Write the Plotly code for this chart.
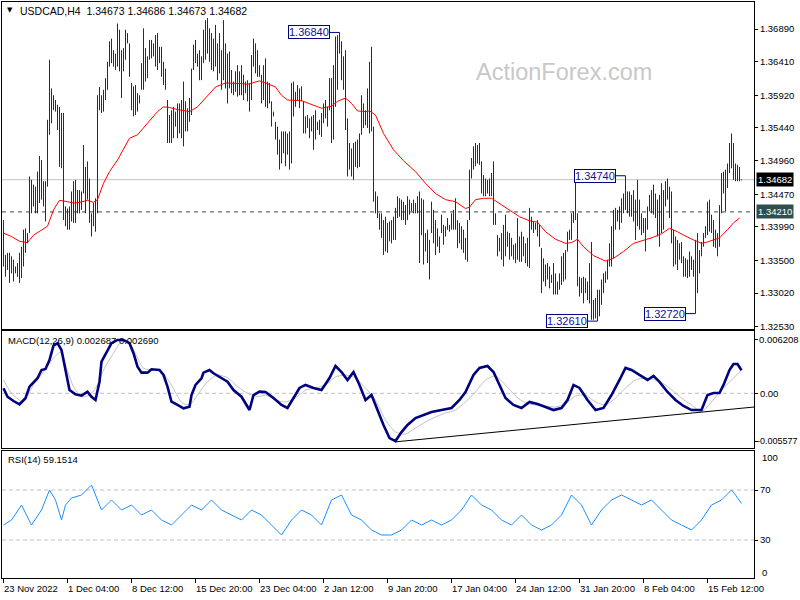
import plotly.graph_objects as go

# ---------------- data ----------------
highs = [
1.3409,1.3358,1.3361,1.3361,1.3356,1.3351,1.3341,1.3346,1.3361,1.3370,
1.3395,1.3397,1.3390,1.3473,1.3468,1.3461,1.3458,1.3480,1.3503,1.3497,
1.3466,1.3466,1.3556,1.3644,1.3602,1.3592,1.3585,1.3578,1.3575,1.3566,
1.3566,1.3429,1.3426,1.3429,1.3451,1.3466,1.3468,1.3453,1.3453,1.3451,
1.3519,1.3487,1.3495,1.3470,1.3419,1.3434,1.3441,1.3592,1.3604,1.3592,
1.3600,1.3617,1.3641,1.3671,1.3675,1.3658,1.3653,1.3697,1.3688,1.3658,
1.3661,1.3688,1.3683,1.3668,1.3610,1.3605,1.3607,1.3595,1.3592,1.3639,
1.3690,1.3661,1.3649,1.3673,1.3673,1.3668,1.3680,1.3683,1.3663,1.3663,
1.3641,1.3631,1.3585,1.3563,1.3570,1.3575,1.3568,1.3580,1.3580,1.3585,
1.3612,1.3583,1.3573,1.3588,
1.3631,1.3666,1.3673,1.3653,1.3658,1.3649,1.3688,1.3702,1.3705,1.3690,
1.3683,1.3675,1.3695,1.3668,1.3683,1.3658,1.3702,1.3668,1.3653,1.3656,
1.3629,1.3612,1.3627,1.3636,1.3627,1.3636,1.3622,1.3612,1.3614,1.3610,
1.3651,1.3675,1.3668,1.3658,1.3636,1.3622,1.3636,1.3646,1.3612,1.3610,
1.3583,1.3568,1.3553,1.3546,1.3527,1.3539,1.3539,1.3539,1.3536,1.3539,
1.3610,1.3612,1.3597,1.3607,1.3602,1.3605,1.3583,1.3561,1.3563,1.3558,
1.3561,1.3563,1.3570,1.3553,1.3556,1.3566,1.3580,1.3585,1.3575,1.3617,
1.3617,1.3636,1.3678,1.3680,1.3684,1.3671,1.3649,1.3658,1.3558,1.3522,
1.3514,1.3522,1.3524,1.3527,1.3536,1.3592,1.3580,1.3570,1.3602,1.3641,
1.3663,1.3546,1.3451,1.3444,
1.3419,1.3419,1.3409,1.3414,1.3405,1.3407,1.3409,1.3414,1.3427,1.3444,
1.3441,1.3439,1.3436,1.3431,1.3444,1.3439,1.3434,1.3439,1.3434,1.3444,
1.3451,1.3441,1.3439,1.3390,1.3395,1.3380,1.3436,1.3424,1.3409,1.3397,
1.3385,1.3417,1.3402,1.3400,1.3412,1.3402,1.3419,1.3424,1.3441,1.3409,
1.3405,1.3400,1.3395,1.3383,1.3409,1.3483,1.3500,1.3517,1.3522,1.3519,
1.3522,1.3495,1.3475,1.3470,1.3468,1.3470,1.3478,1.3495,1.3419,1.3387,
1.3383,1.3390,1.3402,1.3417,1.3392,1.3390,1.3383,1.3373,1.3375,1.3412,
1.3385,1.3392,1.3385,1.3375,1.3383,1.3427,1.3414,1.3407,1.3405,1.3409,
1.3402,1.3368,1.3353,1.3344,1.3346,1.3341,1.3329,1.3346,1.3331,1.3319,
1.3331,1.3356,1.3361,1.3365,
1.3392,1.3395,1.3419,1.3422,1.3470,1.3419,1.3326,1.3324,1.3326,1.3324,
1.3319,1.3346,1.3377,1.3292,1.3295,1.3307,1.3307,1.3322,1.3331,1.3334,
1.3351,1.3375,1.3400,1.3424,1.3427,1.3424,1.3429,1.3441,1.3448,1.3474,
1.3451,1.3451,1.3446,1.3453,1.3439,1.3468,1.3439,1.3419,1.3412,1.3412,
1.3429,1.3446,1.3453,1.3461,1.3448,1.3439,1.3446,1.3463,1.3453,1.3466,
1.3470,1.3458,1.3451,1.3395,1.3385,1.3380,1.3375,1.3377,1.3356,1.3353,
1.3351,1.3363,1.3356,1.3351,1.3380,1.3390,1.3365,1.3377,1.3390,1.3400,
1.3436,1.3439,1.3417,1.3409,1.3395,1.3390,1.3431,1.3478,1.3480,1.3483,
1.3492,1.3522,1.3536,1.3522,1.3492,1.3490,1.3487,1.34686]

lows = [
1.3341,1.3326,1.3336,1.3317,1.3331,1.3319,1.3331,1.3326,1.3317,1.3324,
1.3341,1.3361,1.3375,1.3390,1.3419,1.3429,1.3419,1.3419,1.3434,1.3439,
1.3429,1.3407,1.3458,1.3534,1.3551,1.3570,1.3568,1.3541,1.3487,1.3485,
1.3409,1.3400,1.3395,1.3395,1.3407,1.3405,1.3405,1.3419,1.3419,1.3424,
1.3448,1.3419,1.3439,1.3405,1.3385,1.3400,1.3392,1.3419,1.3570,1.3566,
1.3568,1.3585,1.3600,1.3634,1.3639,1.3634,1.3629,1.3634,1.3627,1.3588,
1.3627,1.3644,1.3668,1.3619,1.3570,1.3561,1.3563,1.3568,1.3580,1.3600,
1.3600,1.3612,1.3617,1.3644,1.3646,1.3649,1.3634,1.3629,1.3639,1.3619,
1.3607,1.3600,1.3522,1.3522,1.3522,1.3529,1.3546,1.3529,1.3536,1.3529,
1.3517,1.3539,1.3539,1.3553,
1.3563,1.3629,1.3639,1.3634,1.3614,1.3614,1.3639,1.3644,1.3653,1.3641,
1.3629,1.3627,1.3634,1.3614,1.3624,1.3600,1.3614,1.3602,1.3580,1.3602,
1.3595,1.3592,1.3597,1.3590,1.3592,1.3592,1.3585,1.3595,1.3583,1.3568,
1.3585,1.3634,1.3624,1.3619,1.3619,1.3580,1.3585,1.3575,1.3573,1.3580,
1.3546,1.3561,1.3527,1.3505,1.3483,1.3492,1.3507,1.3488,1.3505,1.3483,
1.3492,1.3561,1.3575,1.3585,1.3573,1.3583,1.3536,1.3536,1.3544,1.3529,
1.3539,1.3512,1.3527,1.3541,1.3534,1.3531,1.3551,1.3558,1.3546,1.3570,
1.3522,1.3527,1.3575,1.3600,1.3653,1.3614,1.3600,1.3541,1.3473,1.3483,
1.3473,1.3468,1.3487,1.3485,1.3487,1.3534,1.3544,1.3548,1.3544,1.3536,
1.3539,1.3436,1.3419,1.3412,
1.3395,1.3383,1.3358,1.3363,1.3361,1.3378,1.3375,1.3380,1.3380,1.3412,
1.3414,1.3409,1.3409,1.3402,1.3409,1.3417,1.3422,1.3419,1.3419,1.3419,
1.3346,1.3387,1.3344,1.3363,1.3346,1.3322,1.3390,1.3375,1.3358,1.3370,
1.3361,1.3390,1.3373,1.3385,1.3395,1.3392,1.3395,1.3395,1.3395,1.3368,
1.3375,1.3366,1.3361,1.3351,1.3348,1.3409,1.3470,1.3483,1.3488,1.3492,
1.3490,1.3448,1.3444,1.3444,1.3448,1.3444,1.3444,1.3402,1.3402,1.3356,
1.3363,1.3351,1.3341,1.3356,1.3370,1.3351,1.3356,1.3351,1.3346,1.3351,
1.3348,1.3348,1.3356,1.3346,1.3341,1.3339,1.3395,1.3390,1.3395,1.3385,
1.3370,1.3302,1.3319,1.3312,1.3322,1.3309,1.3317,1.3300,1.3300,1.3300,
1.3307,1.3314,1.3319,1.3322,
1.3363,1.3380,1.3380,1.3405,1.3409,1.3312,1.3297,1.3302,1.3287,1.3302,
1.3292,1.3287,1.3263,1.3263,1.3265,1.3261,1.3268,1.3285,1.3302,1.3317,
1.3322,1.3341,1.3341,1.3353,1.3395,1.3407,1.3395,1.3405,1.3419,1.3424,
1.3419,1.3414,1.3414,1.3407,1.3380,1.3400,1.3395,1.3387,1.3390,1.3363,
1.3395,1.3422,1.3419,1.3417,1.3412,1.3385,1.3370,1.3390,1.3395,1.3429,
1.3439,1.3412,1.3375,1.3341,1.3344,1.3336,1.3351,1.3346,1.3326,1.3326,
1.3324,1.3326,1.3336,1.3326,1.3272,1.3302,1.3331,1.3356,1.3370,1.3383,
1.3387,1.3392,1.3390,1.3370,1.3368,1.3356,1.3370,1.3419,1.3448,1.3422,
1.3456,1.3478,1.3485,1.3468,1.3466,1.3466,1.3466,1.34673]

ma_idx = [0,4,8,12,15,20,22,25,28,32,35,38,42,45,47,50,53,57,60,63,67,70,73,77,80,
          83,87,90,93,97,101,106,111,116,119,122,126,128,132,136,139,142,149,152,156,
          159,164,167,171,174,177,181,183,186,190,195,200,206,211,216,221,226,231,233,
          236,240,244,248,253,258,263,267,271,276,281,284,287,290,295,301,305,310,315,
          320,325,329,333,337,340,345,349,352,355,358,362,365,368]
ma_val = [1.3390,1.3385,1.3378,1.3376,1.3387,1.3397,1.3400,1.3424,1.3438,1.3436,
          1.3434,1.3435,1.3438,1.3435,1.3439,1.3463,1.3480,1.3497,1.3512,1.3529,
          1.3534,1.3544,1.3555,1.3568,1.3575,1.3574,1.3571,1.3570,1.3568,1.3575,
          1.3588,1.3604,1.3610,1.3610,1.3609,1.3608,1.3612,1.3613,1.3609,1.3604,
          1.3592,1.3585,1.3584,1.3581,1.3576,1.3573,1.3576,1.3583,1.3588,1.3580,
          1.3569,1.3568,1.3569,1.3563,1.3536,1.3512,1.3496,1.3480,1.3463,1.3448,
          1.3439,1.3436,1.3426,1.3428,1.3439,1.3441,1.3441,1.3433,1.3423,1.3414,
          1.3408,1.3406,1.3392,1.3381,1.3375,1.3376,1.3381,1.3370,1.3357,1.3349,
          1.3353,1.3363,1.3375,1.3379,1.3384,1.3389,1.3397,1.3392,1.3387,1.3380,
          1.3375,1.3377,1.3380,1.3383,1.3395,1.3405,1.3412]

macd_idx = [0,2,5,8,11,13,17,19,21,23,25,27,29,31,33,36,39,42,44,46,48,49,52,54,57,
            60,63,65,67,69,72,74,78,80,82,84,87,90,93,94,96,99,100,103,105,109,112,115,
            119,123,125,128,131,135,139,142,145,148,151,155,159,163,166,169,172,175,178,
            181,184,187,190,193,196,199,202,206,210,214,219,224,228,231,235,238,242,245,
            248,251,255,259,263,267,271,275,279,282,285,288,292,296,300,304,308,311,314,
            318,322,325,328,332,336,340,344,349,352,355,358,360,363,365,367,369]
macd_val = [0.00058,-0.00040,-0.00090,-0.00128,-0.00058,0.00077,0.00175,0.00271,0.00283,0.00388,
            0.00555,0.00583,0.00504,0.00252,0.00038,-0.00012,-0.00028,0.00019,-0.00040,-0.00078,
            0.00135,0.00368,0.00504,0.00583,0.00621,0.00621,0.00583,0.00466,0.00310,0.00240,
            0.00240,0.00280,0.00271,0.00213,0.00077,-0.00098,-0.00136,-0.00175,-0.00156,-0.00020,
            0.00097,0.00175,0.00240,0.00271,0.00233,0.00182,0.00135,0.00038,-0.00040,-0.00195,
            -0.00020,0.00019,0.00015,-0.00055,-0.00136,-0.00171,-0.00055,0.00062,0.00097,0.00062,
            0.00038,0.00178,0.00318,0.00248,0.00155,0.00248,0.00097,-0.00078,-0.00020,-0.00195,
            -0.00369,-0.00521,-0.00556,-0.00451,-0.00369,-0.00288,-0.00253,-0.00218,-0.00195,-0.00171,
            -0.00078,0.00015,0.00213,0.00295,0.00318,0.00248,0.00097,-0.00055,-0.00136,-0.00171,
            -0.00101,-0.00125,-0.00160,-0.00195,-0.00171,-0.00078,0.00097,0.00062,-0.00078,-0.00195,
            -0.00171,-0.00020,0.00155,0.00295,0.00271,0.00213,0.00155,0.00202,0.00132,0.00015,
            -0.00078,-0.00148,-0.00195,-0.00195,-0.00020,0.00003,0.00003,0.00097,0.00271,0.00341,
            0.00341,0.00269]

sig_idx = [0,4,9,12,15,20,25,29,31,35,39,43,47,50,55,59,63,67,70,75,79,84,89,93,97,
           102,107,112,117,122,127,131,136,141,146,151,156,161,166,171,176,181,186,191,196,
           201,206,211,216,221,226,231,236,241,246,251,256,261,266,271,276,281,286,291,296,
           301,306,311,316,321,326,331,336,341,344,349,359,369]
sig_val = [0.00155,0.0,-0.00090,-0.00020,0.00097,0.00252,0.00408,0.00485,0.00330,0.00077,
           -0.00040,-0.00020,0.00097,0.00271,0.00466,0.00601,0.00583,0.00408,0.00291,0.00271,
           0.00252,0.00097,-0.00105,-0.00136,-0.00020,0.00135,0.00213,0.00182,0.00077,0.0,
           -0.00040,-0.00020,-0.00078,-0.00101,-0.00055,0.00038,0.00062,0.00097,0.00190,0.00213,
           0.00178,0.00062,-0.00078,-0.00311,-0.00451,-0.00474,-0.00404,-0.00334,-0.00276,-0.00230,
           -0.00195,-0.00101,0.00015,0.00155,0.00202,0.00097,-0.00031,-0.00113,-0.00136,-0.00148,
           -0.00160,-0.00125,-0.00031,-0.00020,-0.00101,-0.00136,-0.00055,0.00062,0.00155,0.00178,
           0.00155,0.00097,0.00003,-0.00090,-0.00136,-0.00214,0.00038,0.00269]

trend_idx = [196, 375.25]
trend_val = [-0.00565, -0.00160]

rsi_idx = [0,4,9,14,19,23,26,29,31,34,39,44,49,54,59,64,69,74,79,84,89,94,99,104,109,
           114,119,124,129,134,139,144,149,154,159,164,169,174,179,184,189,194,199,204,209,
           214,219,224,229,234,239,244,249,254,259,264,269,274,279,284,289,294,299,304,309,
           314,319,324,329,334,339,344,349,354,359,364,366,369]
rsi_val = [42,46,58,42,54,70,62,46,58,63.6,66,74,54,62,54,58,50,54,46,42,50,58,54,62,54,
           50,46,54,50,42,34,46,54,50,42,62,66,50,46,38,34,34,38,46,42,46,42,46,54,66,
           58,54,46,42,50,42,38,42,50,66,58,42,54,62,66,62,58,62,54,46,42,38,46,58,62,
           70,66,59.15]

price_ticks = [1.36890,1.36410,1.35920,1.35440,1.34960,1.34470,1.33990,1.33500,1.33020,1.32530]
macd_max, macd_min = 0.006208, -0.005577
date_idx = [0,32,64,96,128,160,192,224,256,288,320,352]
date_labels = ["23 Nov 2022","1 Dec 04:00","8 Dec 12:00","15 Dec 20:00","23 Dec 04:00",
               "2 Jan 12:00","9 Jan 20:00","17 Jan 04:00","24 Jan 12:00","31 Jan 20:00",
               "8 Feb 04:00","15 Feb 12:00"]
last_price = 1.34682
level_price = 1.34210
callouts = [(168, 1.36840, "1.36840"), (311, 1.34740, "1.34740"),
            (297, 1.32610, "1.32610"), (346, 1.32720, "1.32720")]

# ---------------- figure ----------------
FONT = "Liberation Sans"
BAR = "#0e3550"
XR = [-0.75, 375.25]

fig = go.Figure()

bx, by = [], []
for i, (h, l) in enumerate(zip(highs, lows)):
    bx += [i, i, None]
    by += [l, h, None]
fig.add_trace(go.Scatter(x=bx, y=by, mode="lines", line=dict(color=BAR, width=1),
                         xaxis="x", yaxis="y", hoverinfo="skip"))
fig.add_trace(go.Scatter(x=ma_idx, y=ma_val, mode="lines", line=dict(color="#ff0000", width=1),
                         xaxis="x", yaxis="y", hoverinfo="skip"))

fig.add_trace(go.Scatter(x=sig_idx, y=sig_val, mode="lines",
                         line=dict(color="#c0c0c0", width=1, shape="spline", smoothing=0.6),
                         xaxis="x2", yaxis="y2", hoverinfo="skip"))
fig.add_trace(go.Scatter(x=macd_idx, y=macd_val, mode="lines", line=dict(color="#000080", width=2.6),
                         xaxis="x2", yaxis="y2", hoverinfo="skip"))
fig.add_trace(go.Scatter(x=trend_idx, y=trend_val, mode="lines", line=dict(color="#000000", width=1),
                         xaxis="x2", yaxis="y2", hoverinfo="skip"))

fig.add_trace(go.Scatter(x=rsi_idx, y=rsi_val, mode="lines", line=dict(color="#1e90ff", width=1),
                         xaxis="x3", yaxis="y3", hoverinfo="skip"))

axis_common = dict(showline=True, mirror=True, linecolor="#000000", linewidth=1,
                   showgrid=False, zeroline=False)
tickfont = dict(family=FONT, size=9.5, color="#000000")

fig.update_layout(
    width=800, height=600, showlegend=False,
    paper_bgcolor="#ffffff", plot_bgcolor="#ffffff",
    margin=dict(l=2, r=46, t=0, b=0, autoexpand=False),
    xaxis=dict(domain=[0, 1], range=XR, anchor="y", showticklabels=False, ticks="", **axis_common),
    yaxis=dict(domain=[1 - 328.5/600, 1 - 2/600], range=[1.32502, 1.37286], side="right",
               ticks="outside", ticklen=3, tickcolor="#000000",
               tickvals=price_ticks, ticktext=[f"{v:.5f}" for v in price_ticks],
               tickfont=tickfont, anchor="x", **axis_common),
    xaxis2=dict(domain=[0, 1], range=XR, anchor="y2", showticklabels=False, ticks="", **axis_common),
    yaxis2=dict(domain=[1 - 447.5/600, 1 - 331/600], range=[-0.00631, 0.00725], side="right",
                ticks="outside", ticklen=3, tickcolor="#000000",
                tickvals=[macd_max, 0.0, macd_min], ticktext=["", "0.00", ""],
                tickfont=tickfont, anchor="x2", **axis_common),
    xaxis3=dict(domain=[0, 1], range=XR, anchor="y3", showticklabels=False,
                ticks="outside", ticklen=4, tickcolor="#000000", tickvals=date_idx, **axis_common),
    yaxis3=dict(domain=[1 - 578.3/600, 1 - 450.5/600], range=[-0.64, 101.6], side="right",
                ticks="outside", ticklen=3, tickcolor="#000000",
                tickvals=[70, 30], ticktext=["70", "30"],
                tickfont=tickfont, anchor="x3", **axis_common),
)

shapes = [
    dict(type="line", xref="paper", x0=0, x1=1, yref="y", y0=last_price, y1=last_price,
         line=dict(color="#c0c0c0", width=1), layer="below"),
    dict(type="line", xref="paper", x0=0, x1=1, yref="y", y0=level_price, y1=level_price,
         line=dict(color="#2f4f4f", width=1, dash="4px,4px"), layer="below"),
    dict(type="line", xref="paper", x0=0, x1=1, yref="y2", y0=0, y1=0,
         line=dict(color="#c0c0c0", width=1, dash="4px,3px"), layer="below"),
    dict(type="line", xref="paper", x0=0, x1=1, yref="y3", y0=70, y1=70,
         line=dict(color="#c0c0c0", width=1, dash="4px,3px"), layer="below"),
    dict(type="line", xref="paper", x0=0, x1=1, yref="y3", y0=30, y1=30,
         line=dict(color="#c0c0c0", width=1, dash="4px,3px"), layer="below"),
]
fig.update_layout(shapes=shapes)

ann = []
ann.append(dict(xref="paper", yref="paper", x=(9.5-2)/752, y=1-10.5/600, text="▼", showarrow=False,
                font=dict(family="DejaVu Sans", size=7, color="#000000"), xanchor="center", yanchor="middle"))
ann.append(dict(xref="paper", yref="paper", x=(18-2)/752, y=1-10.7/600,
                text="USDCAD,H4\u00a0\u00a01.34673 1.34686 1.34673 1.34682", showarrow=False,
                font=dict(family=FONT, size=10.5, color="#000000"), xanchor="left", yanchor="middle"))
ann.append(dict(xref="paper", yref="paper", x=(564-2)/752, y=1-72/600, text="ActionForex.com",
                showarrow=False, font=dict(family=FONT, size=23.5, color="#c8c8c8"),
                xanchor="center", yanchor="middle"))
ann.append(dict(xref="paper", yref="paper", x=(6-2)/752, y=1-340.5/600,
                text="MACD(12,26,9) 0.002687 0.002690", showarrow=False,
                font=dict(family=FONT, size=9.5, color="#000000"), xanchor="left", yanchor="middle"))
ann.append(dict(xref="paper", yref="paper", x=(6-2)/752, y=1-459/600,
                text="RSI(14) 59.1514", showarrow=False,
                font=dict(family=FONT, size=9.5, color="#000000"), xanchor="left", yanchor="middle"))
# MACD extreme labels
ann.append(dict(xref="paper", yref="y2", x=1, xshift=3, y=macd_max, text=f"{macd_max:.6f}",
                showarrow=False, font=tickfont, xanchor="left", yanchor="middle"))
ann.append(dict(xref="paper", yref="y2", x=1, xshift=1, y=macd_min, text=f"{macd_min:.6f}",
                showarrow=False, font=dict(family=FONT, size=9, color="#000000"),
                xanchor="left", yanchor="middle"))
# RSI end labels
ann.append(dict(xref="paper", yref="paper", x=1, xshift=6, y=1-457.3/600, text="100", showarrow=False,
                font=tickfont, xanchor="left", yanchor="middle"))
ann.append(dict(xref="paper", yref="paper", x=1, xshift=6, y=1-572.3/600, text="0", showarrow=False,
                font=tickfont, xanchor="left", yanchor="middle"))
# price tags
ann.append(dict(xref="paper", yref="y", x=1, xshift=2, y=last_price, text=f"{last_price:.5f}", showarrow=False,
                font=dict(family=FONT, size=9.5, color="#ffffff"), bgcolor="#000000",
                xanchor="left", yanchor="middle", borderpad=1))
ann.append(dict(xref="paper", yref="y", x=1, xshift=2, y=level_price, text=f"{level_price:.5f}", showarrow=False,
                font=dict(family=FONT, size=9.5, color="#ffffff"), bgcolor="#2f4f4f",
                xanchor="left", yanchor="middle", borderpad=1))
for idx, val, txt in callouts:
    ann.append(dict(xref="x", yref="y", x=idx, y=val, text=txt, showarrow=True, arrowhead=0,
                    arrowwidth=1, arrowcolor="#000080", ax=-31, ay=0, standoff=0,
                    font=dict(family=FONT, size=11, color="#1010a0"), bgcolor="#ffffff",
                    bordercolor="#000080", borderwidth=1, borderpad=0))
for idx, lab in zip(date_idx, date_labels):
    ann.append(dict(xref="x3", yref="paper", x=idx, y=1-588.3/600, text=lab, showarrow=False,
                    font=tickfont, xanchor="left", yanchor="middle", xshift=-2))
fig.update_layout(annotations=ann)

fig.write_html("out.html", config={"displayModeBar": False},
               post_script="document.body.style.margin='0px';")
